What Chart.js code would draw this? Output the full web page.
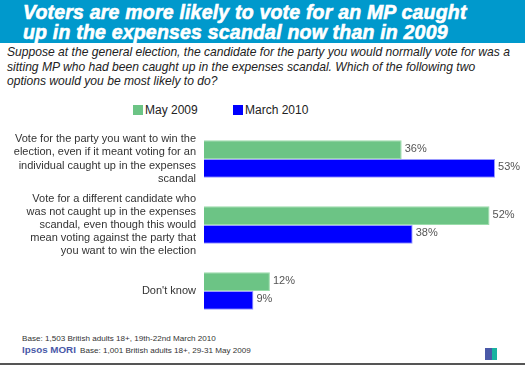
<!DOCTYPE html>
<html lang="en">
<head>
<meta charset="UTF-8">
<title>MP expenses scandal</title>
<style>
    body { margin: 0; width: 525px; height: 365px; position: relative; overflow: hidden; background: #fff; font-family: Arial, 'Liberation Sans', sans-serif; }
    .band { position: absolute; left: 0; top: 0; width: 525px; height: 43px; background: #0099cc; }
    .band h1 { margin: 0; position: absolute; left: 23px; top: 2px; color: #fff; font-size: 19.5px; line-height: 20px; font-style: italic; font-weight: 900; letter-spacing: 0.2px; -webkit-text-stroke: 0.6px #fff; }
    .question { position: absolute; left: 7px; top: 45px; width: 518px; font-size: 12.1px; line-height: 14.5px; font-style: italic; color: #222; white-space: nowrap; }
    .legend { position: absolute; top: 103px; font-size: 12px; color: #222; }
    .legend span.sw { display: inline-block; width: 10px; height: 10px; margin-right: 2px; vertical-align: -1px; }
    .chart { position: absolute; left: 0; top: 120px; width: 525px; height: 210px; }
    .base { position: absolute; left: 22px; font-size: 8.1px; color: #333; }
    .ipsos { position: absolute; left: 22px; top: 344px; font-size: 9.8px; font-weight: bold; color: #4a59a8; }
    .logo { position: absolute; left: 485px; top: 348px; width: 12px; height: 12px; background: linear-gradient(90deg, #4a59a8 55%, #19b3a0 55%); }
    .rule { position: absolute; left: 0; top: 363px; width: 525px; height: 2px; background: #555; }
</style>
</head>
<body>
<div class="band"><h1>Voters are more likely to vote for an MP caught<br>up in the expenses scandal now than in 2009</h1></div>
<div class="question">Suppose at the general election, the candidate for the party you would normally vote for was a<br>sitting MP who had been caught up in the expenses scandal. Which of the following two<br>options would you be most likely to do?</div>
<div class="legend" style="left:133px"><span class="sw" style="background:#6cc485"></span>May 2009</div>
<div class="legend" style="left:233px"><span class="sw" style="background:#0000ff"></span>March 2010</div>
<div class="chart"><canvas id="c"></canvas></div>
<div class="base" style="top:334px">Base: 1,503 British adults 18+, 19th-22nd March 2010</div>
<div class="ipsos">Ipsos MORI</div>
<div class="base" style="left:80px;top:346px">Base: 1,001 British adults 18+, 29-31 May 2009</div>
<div class="logo"></div>
<div class="rule"></div>

<script src="https://cdn.jsdelivr.net/npm/chart.js"></script>
<script>
    const categories = [
        ['Vote for the party you want to win the', 'election, even if it meant voting for an', 'individual caught up in the expenses', 'scandal'],
        ['Vote for a different candidate who', 'was not caught up in the expenses', 'scandal, even though this would', 'mean voting against the party that', 'you want to win the election'],
        ["Don't know"]
    ];
    const may2009 = [36, 52, 12];
    const march2010 = [53, 38, 9];

    // value labels at the end of each bar
    const valueLabels = {
        id: 'valueLabels',
        afterDatasetsDraw(chart) {
            const ctx = chart.ctx;
            ctx.save();
            ctx.font = '11px Arial, "Liberation Sans", sans-serif';
            ctx.fillStyle = '#555';
            ctx.textBaseline = 'middle';
            chart.data.datasets.forEach((ds, i) => {
                chart.getDatasetMeta(i).data.forEach((bar, j) => {
                    ctx.fillText(ds.data[j] + '%', bar.x + 3, bar.y - 1);
                });
            });
            ctx.restore();
        }
    };

    new Chart(document.getElementById('c'), {
        type: 'bar',
        data: {
            labels: categories,
            datasets: [
                { label: 'May 2009', data: may2009, backgroundColor: '#6cc485', borderColor: '#9adcaa', borderWidth: 1, borderSkipped: 'left' },
                { label: 'March 2010', data: march2010, backgroundColor: '#0000ff', borderColor: '#9999ff', borderWidth: 1, borderSkipped: 'left' }
            ]
        },
        options: {
            indexAxis: 'y',
            responsive: true,
            maintainAspectRatio: false,
            animation: false,
            layout: { padding: { top: 6, bottom: 6, right: 19, left: 0 } },
            plugins: { legend: { display: false }, tooltip: { enabled: false } },
            datasets: { bar: { categoryPercentage: 0.565, barPercentage: 1 } },
            scales: {
                x: { min: 0, max: 55, display: false },
                y: {
                    grid: { display: false, drawTicks: false },
                    border: { display: false },
                    afterFit(scale) {
                        scale.width = 204;
                        scale.paddingTop = 0;
                        scale.paddingBottom = 0;
                    },
                    ticks: {
                        autoSkip: false,
                        color: '#333',
                        padding: 8,
                        font: { size: 11, family: 'Arial, "Liberation Sans", sans-serif', lineHeight: 1.2 }
                    }
                }
            }
        },
        plugins: [valueLabels]
    });
</script>
</body>
</html>
